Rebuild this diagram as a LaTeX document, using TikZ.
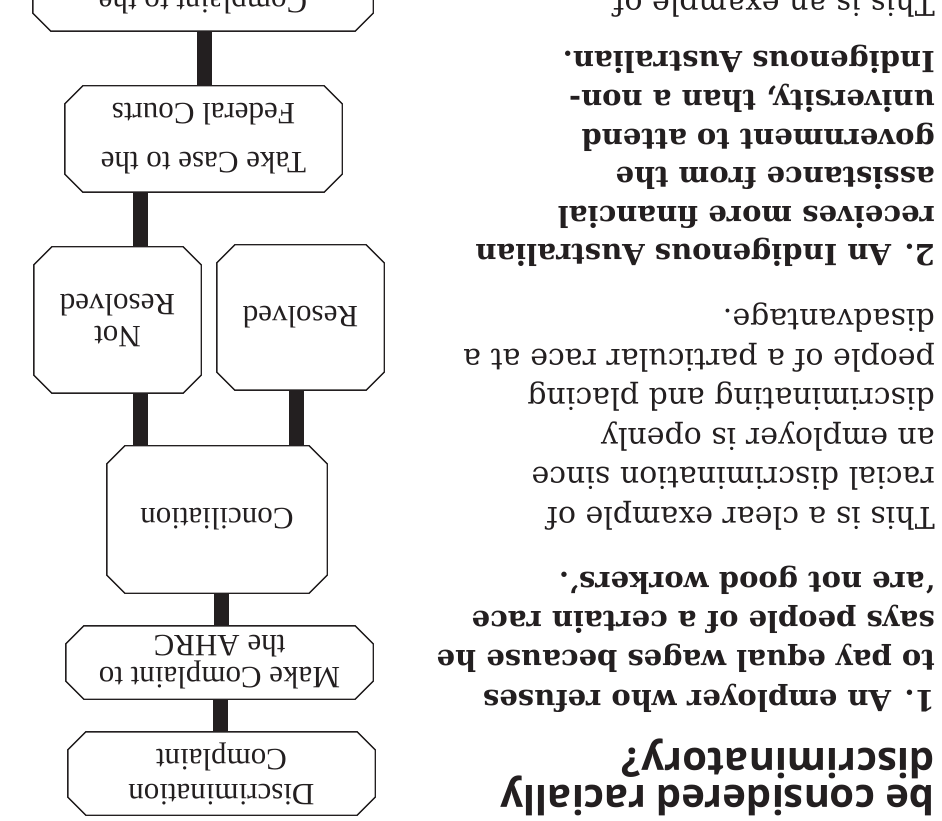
\documentclass[tikz,border=0pt]{standalone}
\usepackage{fontspec}
\setmainfont{Liberation Serif}
\newfontfamily\bodyfont{DejaVu Serif}
\newfontfamily\titlefont{Open Sans}
\usetikzlibrary{backgrounds,calc}
\definecolor{ink}{HTML}{231F20}
\newcommand\chamferbox[1]{%
  \draw[boxline] let \p1=(#1.north east), \p2=(#1.south west) in
    ({\x1+18pt},\y1) -- ({\x2-18pt},\y1) -- (\x2,{\y1+18pt}) -- (\x2,{\y2-18pt})
    -- ({\x2-18pt},\y2) -- ({\x1+18pt},\y2) -- (\x1,{\y2-18pt}) -- (\x1,{\y1+18pt}) -- cycle;}
\begin{document}
\begin{tikzpicture}[x=1pt,y=1pt,
  flowbox/.style={rectangle, rotate=180, fill=white, inner sep=0pt, align=center, text=ink,
    font=\fontsize{31}{32}\selectfont},
  boxline/.style={draw=ink, line width=1.4pt, line join=miter},
  link/.style={draw=ink, line width=15pt},
  bodyline/.style={rotate=180, anchor=base west, inner sep=0pt, text=ink, font=\bodyfont\fontsize{30}{36}\selectfont},
  boldline/.style={rotate=180, anchor=base west, inner sep=0pt, text=ink, font=\bodyfont\bfseries\fontsize{29}{36}\selectfont},
  titleline/.style={rotate=180, anchor=base west, inner sep=0pt, text=ink, font=\titlefont\bfseries\fontsize{40}{40}\selectfont}]
\useasboundingbox (0,0) rectangle (942,820);
\clip (0,0) rectangle (942,820);
% flowchart (drawn upside down, as in the reference)
\node[flowbox, minimum width=307, minimum height=83] (disc) at (221.5,46.5) {Discrimination\\[3pt]Complaint};
\node[flowbox, minimum width=307, minimum height=73] (make) at (219.5,157.5) {Make Complaint to\\the AHRC};
\node[flowbox, minimum width=220, minimum height=147] (conc) at (217,300.5) {Conciliation};
\node[flowbox, minimum width=167, minimum height=145] (res) at (300.5,502.5) {Resolved};
\node[flowbox, minimum width=167, minimum height=146] (notres) at (117.5,500) {Not\\Resolved};
\node[flowbox, minimum width=277, minimum height=106] (take) at (203.5,681) {Take Case to the\\[17pt]Federal Courts};
\node[flowbox, minimum width=340, minimum height=62] (comp) at (203,820) {Complaint to the};
\foreach \bx in {disc,make,conc,res,notres,take,comp} {\chamferbox{\bx}}
\coordinate (k1) at (220,0);
\coordinate (k2) at (221,0);
\coordinate (k3) at (296,0);
\coordinate (k4) at (140,0);
\coordinate (k5) at (204,0);
\begin{pgfonlayer}{background}
  \draw[link] (disc.center -| k1) -- (make.center -| k1);
  \draw[link] (make.center -| k2) -- (conc.center -| k2);
  \draw[link] (conc.center -| k3) -- (res.center -| k3);
  \draw[link] (conc.center -| k4) -- (notres.center -| k4);
  \draw[link] (notres.center -| k4) -- (take.center -| k4);
  \draw[link] (take.center -| k5) -- (comp.center -| k5);
\end{pgfonlayer}
% text column (upside down)
\node[titleline] (t1) at (935,35) {be considered racially};
\node[titleline] (t2) at (935,72) {discriminatory?};
\foreach \s [count=\i from 0] in {1. An employer who refuses, to pay equal wages because he,
    says people of a certain race, ‘are not good workers’.}
  {\node[boldline] (pa\i) at (935,130+39.3*\i) {\s};}
\foreach \s [count=\i from 0] in {This is a clear example of, racial discrimination since,
    an employer is openly, discriminating and placing, people of a particular race at a, disadvantage.}
  {\node[bodyline] (pb\i) at (935,313+39.4*\i) {\s};}
\foreach \s [count=\i from 0] in {2. An Indigenous Australian, receives more financial,
    assistance from the, government to attend, {university, than a non-}, Indigenous Australian.}
  {\node[boldline] (pc\i) at (935,575+38.6*\i) {\s};}
\node[bodyline] (pd0) at (935,825) {This is an example of};
\end{tikzpicture}
\end{document}
